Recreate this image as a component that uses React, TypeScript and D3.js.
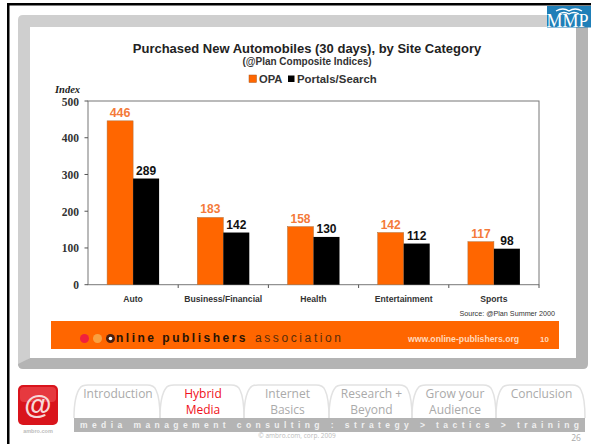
import React from "react";
import * as d3 from "d3";

// Composite index values by site category
const categories = ["Auto", "Business/Financial", "Health", "Entertainment", "Sports"];
const opaValues = [446, 183, 158, 142, 117];
const portalValues = [289, 142, 130, 112, 98];
const yTicks = [0, 100, 200, 300, 400, 500];
const navLabels = [
  ["Introduction"],
  ["Hybrid", "Media"],
  ["Internet", "Basics"],
  ["Research +", "Beyond"],
  ["Grow your", "Audience"],
  ["Conclusion"],
];
const activeNav = "Hybrid";

const ORANGE = "#ff6600";
const SANS = "'Liberation Sans', Arial, sans-serif";
const SERIF = "'Liberation Serif', 'Times New Roman', serif";
const NAV = "'Open Sans', 'Noto Sans', sans-serif";

// Left and right edge of each navigation tab
const navEdges = [
  [74, 160],
  [160, 244],
  [244, 329],
  [329, 412],
  [412, 496],
  [496, 585],
];

export default function App() {
  const x = d3.scaleBand<string>().domain(categories).range([88, 539]);
  const y = d3.scaleLinear().domain([0, 500]).range([284.7, 101]);
  const barW = 26;
  const barX = (c: string) => (x(c) as number) + x.bandwidth() / 2 - 26;
  const valueLabel = (v: number, cx: number, fill: string, size = 12) => (
    <text x={cx} y={y(v) - 4} textAnchor="middle" fontFamily={SANS} fontWeight="bold" fontSize={size} fill={fill}>{v}</text>
  );

  return (
    <svg width={591} height={444} style={{ position: "absolute", left: 0, top: 0, background: "#fff" }}>
      {/* Slide border */}
      <rect x={7} y={3} width={584} height={2.5} fill="#000" />
      <rect x={7} y={3} width={2.5} height={441} fill="#000" />

      {/* Bevelled chart frame */}
      <path d="M18 20 Q18 15 23 15 L588 15 L576 27 L30 27 L30 358 L18 366 Z" fill="#cfcfcf" />
      <path d="M588 15 L588 364 Q588 369 583 369 L23 369 Q18 369 18 364 L30 358 L576 358 L576 27 Z" fill="#b4b4b4" />
      <rect x={30} y={27} width={546} height={331} fill="#fff" />

      {/* Title block and legend */}
      <text x={307} y={53} textAnchor="middle" fontFamily={SANS} fontWeight="bold" fontSize={13} fill="#222">
        Purchased New Automobiles (30 days), by Site Category
      </text>
      <text x={307} y={65} textAnchor="middle" fontFamily={SANS} fontWeight="bold" fontSize={10} fill="#333">
        (@Plan Composite Indices)
      </text>
      <rect x={249} y={75} width={7.5} height={7.5} fill={ORANGE} stroke="#a85a20" strokeWidth={0.5} />
      <text x={259} y={83} fontFamily={SANS} fontWeight="bold" fontSize={11.2} fill="#333">OPA</text>
      <rect x={288} y={75.5} width={6.5} height={6.5} fill="#000" />
      <text x={297} y={83} fontFamily={SANS} fontWeight="bold" fontSize={11.4} fill="#333">Portals/Search</text>

      {/* Plot box */}
      <rect x={88} y={101} width={451} height={183.7} fill="#fff" stroke="#777" strokeWidth={1} />
      <text x={55} y={93} fontFamily={SERIF} fontStyle="italic" fontWeight="bold" fontSize={10.5} fill="#222">Index</text>

      {yTicks.map((t) => (
        <g key={t}>
          <line x1={84.5} x2={88} y1={y(t)} y2={y(t)} stroke="#555" />
          <text x={79} y={y(t) + 4.5} textAnchor="end" fontFamily={SERIF} fontWeight="bold" fontSize={11.5} fill="#333">{t}</text>
        </g>
      ))}

      {categories.map((c, i) => {
        const bx = barX(c);
        return (
          <g key={c}>
            <rect x={bx} y={y(opaValues[i])} width={barW} height={y(0) - y(opaValues[i])} fill={ORANGE} stroke="#b0703a" strokeWidth={0.5} />
            <rect x={bx + barW} y={y(portalValues[i])} width={barW} height={y(0) - y(portalValues[i])} fill="#000" />
            {valueLabel(opaValues[i], bx + barW / 2, "#f47a3a", i === 0 ? 12.5 : 12)}
            {valueLabel(portalValues[i], bx + barW * 1.5, "#111")}
            <line x1={(x(c) as number) + x.bandwidth()} x2={(x(c) as number) + x.bandwidth()} y1={284.7} y2={288} stroke="#555" />
            <text x={bx + barW} y={302} textAnchor="middle" fontFamily={SANS} fontWeight="bold" fontSize={8.6} fill="#333">{c}</text>
          </g>
        );
      })}

      <text x={555} y={316} textAnchor="end" fontFamily={SANS} fontSize={7.2} fill="#333">Source:  @Plan Summer 2000</text>

      {/* Publisher banner */}
      <rect x={51} y={321} width={508} height={28} fill={ORANGE} />
      <circle cx={84.5} cy={338.5} r={4.5} fill="#f0203c" />
      <circle cx={97.5} cy={338.5} r={4.5} fill="#f9a040" />
      <circle cx={110.5} cy={338.5} r={4.5} fill="#4a2010" />
      <circle cx={110.5} cy={338.5} r={1.8} fill="#fff" />
      <text x={116} y={342} fontFamily={SANS} fontWeight="bold" fontSize={12} letterSpacing={2.5} fill="#2a1405">nline publishers</text>
      <text x={255} y={342} fontFamily={SANS} fontSize={12} letterSpacing={2.6} fill="#5a2c08">association</text>
      <text x={408} y={342} fontFamily={SANS} fontWeight="bold" fontSize={8.7} fill="#ffd9bd">www.online-publishers.org</text>
      <text x={540} y={342} fontFamily={SANS} fontWeight="bold" fontSize={8} fill="#ffd9bd">10</text>

      {/* Corner logo */}
      <rect x={547} y={6} width={44} height={21.5} fill="#1f7fb8" />
      <path d="M556 11 Q563 7 569 11 Q575 7 582 11 M559 14 Q564 11 569 14 Q574 11 579 14" stroke="#fff" strokeWidth={1.4} fill="none" />
      <text x={546.5} y={27} fontFamily={SERIF} fontSize={18} fill="#fff">MMP</text>

      {/* Brand icon */}
      <rect x={18} y={385} width={40} height={40} rx={5} fill="#d9141c" />
      <rect x={20} y={387} width={36} height={15} rx={4} fill="#f0585c" opacity={0.55} />
      <text x={38} y={414} textAnchor="middle" fontFamily={SANS} fontWeight="bold" fontSize={28} fill="#f6d8d8">@</text>
      <text x={38} y={433} textAnchor="middle" fontFamily={SANS} fontWeight="bold" fontSize={5.5} fill="#bbb">ambro.com</text>

      {/* Section navigation */}
      {navLabels.map((lines, i) => {
        const [x0, x1] = navEdges[i];
        return (
          <g key={lines[0]}>
            <path
              d={`M${x0} 418 Q${x0} 396 ${x0 + 6} 388 Q${x0 + 8} 385 ${x0 + 14} 385 L${x1 - 13} 385 Q${x1 - 6} 385 ${x1 - 4} 390 Q${x1} 398 ${x1} 418`}
              fill="none"
              stroke="#e2e2e2"
              strokeWidth={1.5}
            />
            {lines.map((line, j) => (
              <text
                key={line}
                x={(x0 + x1) / 2 + 1}
                y={398 + j * 16}
                textAnchor="middle"
                fontFamily={NAV}
                fontSize={12}
                fill={lines[0] === activeNav ? "#f01020" : "#aaaaaa"}
              >
                {line}
              </text>
            ))}
          </g>
        );
      })}
      <rect x={74} y={418} width={511} height={14} fill="#b4b4b4" />
      <text x={80} y={428} textLength={499} fontFamily={SANS} fontWeight="bold" fontSize={8.5} fill="#f0f0f0">
        media management consulting : strategy &gt; tactics &gt; training
      </text>
      <text x={297} y={438} textAnchor="middle" fontFamily={NAV} fontSize={6.5} fill="#bbb">© ambro.com, corp. 2009</text>
      <text x={576} y={441} textAnchor="middle" fontFamily={NAV} fontSize={8.5} fill="#aaa">26</text>
    </svg>
  );
}
